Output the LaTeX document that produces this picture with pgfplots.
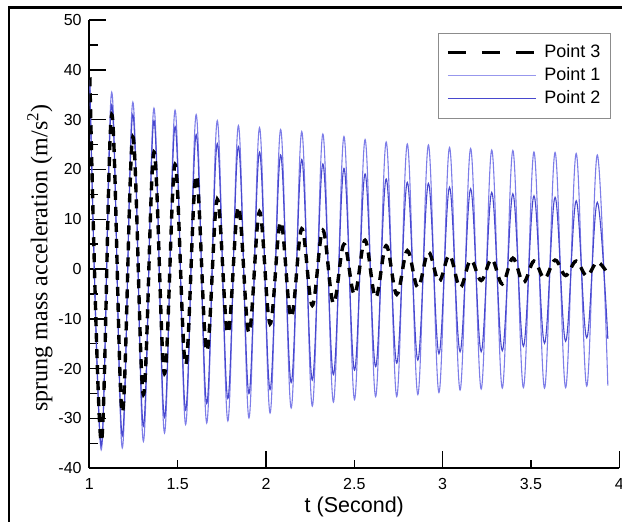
\documentclass[border=0pt]{standalone}
\usepackage{fontspec}
\setmainfont{Liberation Sans}
\newfontfamily\seriffont{Liberation Serif}
\usepackage{pgfplots}
\usepackage{pgfplotstable}
\pgfplotsset{compat=1.18}

\definecolor{pOne}{RGB}{125,125,232}
\definecolor{pTwo}{RGB}{72,72,206}

% Point 1 (outer, larger amplitude)
\pgfplotstableread{
t a
1.0030 38.0
1.0673 -36.3
1.1270 35.5
1.1867 -35.9
1.2465 33.5
1.3062 -34.6
1.3660 32.3
1.4257 -32.9
1.4855 31.9
1.5452 -31.2
1.6050 31.0
1.6647 -30.9
1.7245 29.8
1.7842 -30.5
1.8440 28.8
1.9037 -29.9
1.9635 28.4
2.0232 -28.9
2.0830 28.0
2.1427 -27.9
2.2025 27.6
2.2622 -27.5
2.3220 27.1
2.3817 -26.7
2.4415 26.6
2.5012 -26.2
2.5610 26.0
2.6207 -25.6
2.6805 25.5
2.7402 -25.6
2.8000 25.1
2.8597 -25.2
2.9195 24.9
2.9792 -24.8
3.0390 24.4
3.0987 -24.3
3.1585 24.2
3.2182 -24.1
3.2780 23.9
3.3377 -23.9
3.3975 23.8
3.4572 -23.8
3.5170 23.5
3.5767 -23.9
3.6365 23.4
3.6962 -23.8
3.7560 23.2
3.8157 -23.5
3.8755 22.9
3.9352 -23.4
}\tableone

% Point 2 (inner, smaller amplitude)
\pgfplotstableread{
t a
1.0030 37.0
1.0673 -35.5
1.1270 33.0
1.1867 -33.5
1.2465 31.0
1.3062 -31.5
1.3660 29.8
1.4257 -29.8
1.4855 28.6
1.5452 -28.3
1.6050 27.0
1.6647 -27.0
1.7245 25.2
1.7842 -26.0
1.8440 24.6
1.9037 -25.0
1.9635 23.5
2.0232 -24.2
2.0830 22.9
2.1427 -22.8
2.2025 22.0
2.2622 -22.3
2.3220 21.1
2.3817 -21.2
2.4415 20.2
2.5012 -20.3
2.5610 19.1
2.6207 -19.6
2.6805 18.1
2.7402 -18.9
2.8000 17.4
2.8597 -18.3
2.9195 17.2
2.9792 -17.0
3.0390 16.4
3.0987 -16.6
3.1585 16.1
3.2182 -16.6
3.2780 15.4
3.3377 -16.4
3.3975 15.1
3.4572 -15.5
3.5170 14.7
3.5767 -14.9
3.6365 14.4
3.6962 -14.5
3.7560 13.7
3.8157 -13.8
3.8755 13.4
3.9352 -14.0
}\tabletwo

% Point 3 (black dashed, decaying)
\pgfplotstableread{
t a
1.0030 38.5
1.0673 -34.6
1.1270 31.0
1.1867 -28.8
1.2465 26.5
1.3062 -25.2
1.3660 23.5
1.4257 -21.0
1.4855 21.0
1.5452 -19.2
1.6050 18.8
1.6647 -16.5
1.7245 14.0
1.7842 -12.9
1.8440 12.5
1.9037 -12.8
1.9635 11.5
2.0232 -11.0
2.0830 9.5
2.1427 -9.7
2.2025 8.1
2.2622 -7.3
2.3220 7.8
2.3817 -6.9
2.4415 5.0
2.5012 -5.1
2.5610 5.8
2.6207 -5.7
2.6805 4.7
2.7402 -5.1
2.8000 3.7
2.8597 -3.7
2.9195 3.4
2.9792 -2.5
3.0390 2.8
3.0987 -3.7
3.1585 1.8
3.2182 -2.3
3.2780 2.0
3.3377 -3.0
3.3975 2.2
3.4572 -2.7
3.5170 1.6
3.5767 -1.9
3.6365 1.8
3.6962 -1.3
3.7560 1.6
3.8157 -1.4
3.8755 1.4
3.9352 -1.0
}\tablethree

\begin{document}
\begin{tikzpicture}
\useasboundingbox (0pt,0pt) rectangle (622pt,522pt);
\draw[line width=2.4pt] (9pt,0pt) -- (9pt,514.5pt) -- (622pt,514.5pt);
\begin{axis}[
  at={(89.3pt,53.7pt)}, anchor=south west,
  scale only axis, width=530pt, height=448.3pt,
  xmin=1, xmax=4, ymin=-40, ymax=50,
  axis lines=left,
  axis line style={-, line width=1.8pt, black},
  tick align=inside,
  tick style={line width=1.4pt, black},
  major tick length=17pt, minor tick length=9pt,
  xtick={1,2,3,4},
  extra x ticks={1.5,2.5,3.5},
  extra x tick style={major tick length=8pt},
  ytick={-40,-30,...,50},
  minor ytick={-35,-25,...,45},
  /pgf/number format/assume math mode=true,
  tick label style={font=\fontsize{16}{19}\selectfont},
  yticklabel style={inner sep=0pt, xshift=-7.5pt},
  xticklabel style={inner sep=0pt, yshift=-10pt},
  every axis x label/.style={at={(axis description cs:0.5,-0.0975)}, anchor=base, font=\fontsize{21.5}{25}\selectfont},
  every axis y label/.style={at={(axis description cs:-0.0789,0.469)}, anchor=base, rotate=90, font=\fontsize{24}{28}\selectfont\seriffont},
  xlabel={t (Second)},
  ylabel={sprung mass acceleration (m/s\textsuperscript{2})},
  legend image code/.code={\draw[#1] (0pt,0pt) -- (88pt,0pt);},
  legend cell align=left,
  legend style={at={(axis description cs:0.9838,0.9717)}, anchor=north east,
    draw=black!45, line width=0.8pt, fill=white,
    font=\fontsize{18}{21}\selectfont,
    inner xsep=8pt, inner ysep=9.5pt, row sep=3pt,
    nodes={inner sep=2pt, text height=12.5pt, text depth=3.5pt},
    column sep=5pt},
]
\addplot[forget plot, pOne, line width=1.1pt, smooth, tension=0.6] table[x=t,y=a] {\tableone};
\addplot[forget plot, pTwo, line width=1.1pt, smooth, tension=0.6] table[x=t,y=a] {\tabletwo};
\addplot[forget plot, black, line width=3.4pt, dash pattern=on 9pt off 7pt, smooth, tension=0.6] table[x=t,y=a] {\tablethree};
\addlegendimage{black, line width=3pt, dash pattern=on 18pt off 16pt}
\addlegendentry{Point 3}
\addlegendimage{pOne!80, line width=1pt}
\addlegendentry{Point 1}
\addlegendimage{pTwo, line width=1pt}
\addlegendentry{Point 2}
\end{axis}
\end{tikzpicture}
\end{document}
